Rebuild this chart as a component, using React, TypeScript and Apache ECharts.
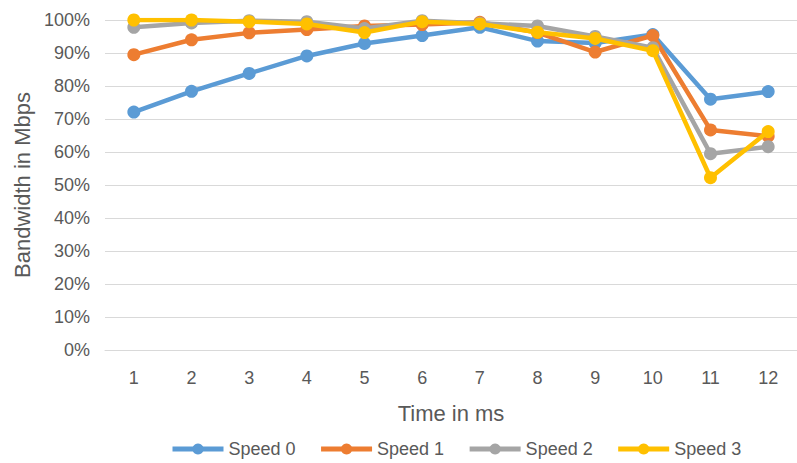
import React, { useEffect, useRef } from "react";
import * as echarts from "echarts";

const categories = ["1", "2", "3", "4", "5", "6", "7", "8", "9", "10", "11", "12"];
const seriesNames = ["Speed 0", "Speed 1", "Speed 2", "Speed 3"];
const speed0 = [72.1, 78.4, 83.8, 89.1, 92.9, 95.3, 97.8, 93.6, 93.0, 95.6, 76.0, 78.3];
const speed1 = [89.5, 94.0, 96.1, 97.1, 98.2, 98.6, 99.3, 96.2, 90.3, 95.3, 66.7, 64.8];
const speed2 = [97.8, 99.1, 99.8, 99.5, 97.4, 99.8, 99.0, 98.2, 95.0, 91.6, 59.5, 61.6];
const speed3 = [100, 100, 99.5, 98.8, 96.2, 99.5, 98.8, 96.3, 94.4, 90.7, 52.2, 66.2];
const colors = ["#5B9BD5", "#ED7D31", "#A5A5A5", "#FFC000"];
const yTicks = { min: 0, max: 100, interval: 10 };

const FONT = "'Liberation Sans', Arial, sans-serif";

export default function App() {
  const ref = useRef<HTMLDivElement>(null);
  useEffect(() => {
    if (!ref.current) return;
    const chart = echarts.init(ref.current, null, { renderer: "svg" });
    const data = [speed0, speed1, speed2, speed3];
    chart.setOption({
      animation: false,
      textStyle: { fontFamily: FONT },
      grid: { left: 105, top: 20, height: 330, width: 704 },
      legend: {
        top: 440,
        left: 170,
        padding: 0,
        itemWidth: 51,
        itemHeight: 14,
        itemGap: 23,
        data: seriesNames,
        lineStyle: { width: 5 },
        textStyle: { fontSize: 18, color: "#595959", fontFamily: FONT },
      },
      xAxis: {
        type: "category",
        data: categories,
        boundaryGap: true,
        axisLine: { show: true, lineStyle: { color: "#D9D9D9", width: 1 } },
        axisTick: { show: false },
        axisLabel: { color: "#595959", fontSize: 18, margin: 19, fontFamily: FONT },
        name: "Time in ms",
        nameLocation: "middle",
        nameGap: 52,
        nameTextStyle: { color: "#595959", fontSize: 22, fontFamily: FONT },
      },
      yAxis: {
        type: "value",
        min: yTicks.min,
        max: yTicks.max,
        interval: yTicks.interval,
        axisLine: { show: false },
        axisTick: { show: false },
        splitLine: { lineStyle: { color: "#D9D9D9", width: 1 } },
        axisLabel: { color: "#595959", fontSize: 18, margin: 15, formatter: "{value}%", fontFamily: FONT },
        name: "Bandwidth in Mbps",
        nameLocation: "middle",
        nameGap: 71,
        nameTextStyle: { color: "#595959", fontSize: 22, fontFamily: FONT },
      },
      series: seriesNames.map((name, i) => ({
        name,
        type: "line",
        data: data[i],
        symbol: "circle",
        symbolSize: 13,
        lineStyle: { width: 4.5, color: colors[i] },
        itemStyle: { color: colors[i] },
        z: 2 + i,
      })),
    });
    return () => chart.dispose();
  }, []);
  return <div ref={ref} style={{ width: 797, height: 463, position: "absolute", left: 0, top: 0 }} />;
}
